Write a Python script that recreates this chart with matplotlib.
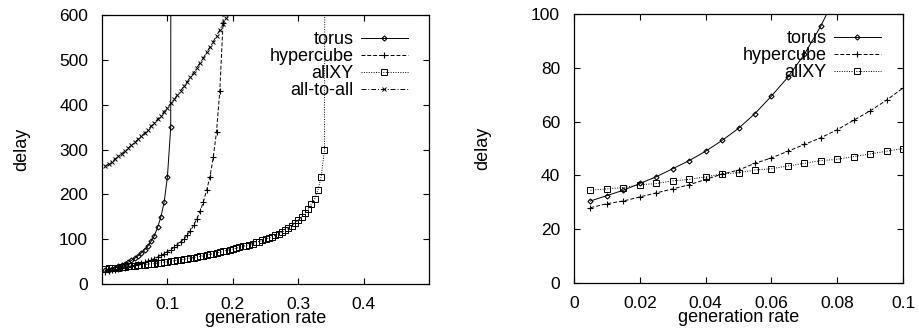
import numpy as np
import matplotlib
matplotlib.use("Agg")
import matplotlib.pyplot as plt

plt.rcParams["font.family"] = ["Liberation Sans", "DejaVu Sans"]
plt.rcParams["font.size"] = 12.5

# ---- data ----
# generation rate steps of 0.005
torus_x = [0.005, 0.01, 0.015, 0.02, 0.025, 0.03, 0.035, 0.04, 0.045, 0.05,
           0.055, 0.06, 0.065, 0.07, 0.075, 0.08, 0.085, 0.09, 0.095, 0.1,
           0.105, 0.11]
torus_y = [30.5, 32.5, 34.5, 37, 39.5, 42.5, 45.5, 49, 53, 57.5,
           63, 69.5, 76.5, 85, 95.5, 108, 127, 150, 183, 240,
           350, 10000]

hyper_x = [0.005, 0.01, 0.015, 0.02, 0.025, 0.03, 0.035, 0.04, 0.045, 0.05,
           0.055, 0.06, 0.065, 0.07, 0.075, 0.08, 0.085, 0.09, 0.095, 0.1,
           0.105, 0.11, 0.115, 0.12, 0.125, 0.13, 0.135, 0.14, 0.145, 0.15,
           0.155, 0.16, 0.165, 0.17, 0.175, 0.18, 0.185, 0.19]
hyper_y = [28, 29.5, 30.5, 32, 33.5, 35, 36.5, 38.5, 40.5, 42,
           44.5, 46.5, 49, 51.5, 54, 57, 60.5, 64, 68, 72.5,
           77, 82, 88, 94, 101, 109, 119, 131, 146, 163,
           184, 210, 240, 283, 340, 431, 583, 5000]

allxy_x = [0.005, 0.01, 0.015, 0.02, 0.025, 0.03, 0.035, 0.04, 0.045, 0.05,
           0.055, 0.06, 0.065, 0.07, 0.075, 0.08, 0.085, 0.09, 0.095, 0.1,
           0.105, 0.11, 0.115, 0.12, 0.125, 0.13, 0.135, 0.14, 0.145, 0.15,
           0.155, 0.16, 0.165, 0.17, 0.175, 0.18, 0.185, 0.19, 0.195, 0.2,
           0.205, 0.21, 0.215, 0.22, 0.225, 0.23, 0.235, 0.24, 0.245, 0.25,
           0.255, 0.26, 0.265, 0.27, 0.275, 0.28, 0.285, 0.29, 0.295, 0.3,
           0.305, 0.31, 0.315, 0.32, 0.325, 0.33, 0.335, 0.34, 0.345]
allxy_y = [34.5, 35, 35.5, 36.5, 37, 38, 38.5, 39.5, 40.5, 41,
           42, 42.5, 43.5, 44.5, 45.5, 46, 47, 48, 49, 50,
           51, 52, 53, 54, 55.5, 57, 58, 59, 60.5, 62,
           63.5, 65, 66.5, 68, 69.5, 71, 73, 75, 76.5, 78,
           80, 82, 84, 86, 88, 90.5, 93, 95, 97.5, 100,
           103, 106, 109, 112, 116, 120, 125, 130, 136, 143,
           150, 158, 167, 178, 190, 210, 240, 300, 5000]

a2a_x = [0.005, 0.01, 0.015, 0.02, 0.025, 0.03, 0.035, 0.04, 0.045, 0.05,
         0.055, 0.06, 0.065, 0.07, 0.075, 0.08, 0.085, 0.09, 0.095, 0.1,
         0.105, 0.11, 0.115, 0.12, 0.125, 0.13, 0.135, 0.14, 0.145, 0.15,
         0.155, 0.16, 0.165, 0.17, 0.175, 0.18, 0.185, 0.19, 0.195, 0.2]
a2a_y = [263, 268, 273, 279, 285, 291, 297, 303, 310, 316,
         323, 330, 337, 344, 352, 360, 368, 376, 385, 394,
         403, 412, 421, 431, 441, 451, 461, 472, 483, 494,
         505, 517, 529, 541, 554, 567, 580, 594, 608, 622]

# right panel uses the low-load part of the same runs
RIGHT_MAX = 0.1

styles = {
    "torus": dict(ls="-", marker="D", ms=2.6, mfc="none", mew=0.8),
    "hypercube": dict(ls=(0, (4, 2)), marker="+", ms=5, mew=0.8),
    "allXY": dict(ls=(0, (1, 1.5)), marker="s", ms=3.8, mfc="none", mew=0.7),
    "all-to-all": dict(ls=(0, (5, 2, 1, 2)), marker="x", ms=3.5, mew=0.7),
}
series = {
    "torus": (torus_x, torus_y),
    "hypercube": (hyper_x, hyper_y),
    "allXY": (allxy_x, allxy_y),
    "all-to-all": (a2a_x, a2a_y),
}

fig = plt.figure(figsize=(9.19, 3.3), dpi=100)
ax1 = fig.add_axes([0.111, 0.139, 0.356, 0.815])
ax2 = fig.add_axes([0.6246, 0.1424, 0.358, 0.815])


def style_axes(ax, ylabelpad):
    ax.tick_params(direction="in", top=True, right=True, length=4, width=0.8,
                   labelsize=12.5)
    ax.tick_params(axis="x", pad=9)
    ax.tick_params(axis="y", pad=10)
    for s in ax.spines.values():
        s.set_linewidth(0.9)
    ax.set_xlabel("generation rate", fontsize=13, labelpad=-1)
    ax.set_ylabel("delay", fontsize=13, labelpad=ylabelpad)


legend_kw = dict(loc="upper right", markerfirst=False, frameon=False,
                 handlelength=2.6, handletextpad=0.4, labelspacing=0.0,
                 fontsize=13, borderaxespad=0)

# left panel: full range
for name, (x, y) in series.items():
    ax1.plot(x, y, color="black", lw=0.7, label=name, **styles[name])
ax1.set_xlim(0, 0.5)
ax1.set_ylim(0, 600)
ax1.set_xticks([0.1, 0.2, 0.3, 0.4])
ax1.set_xticklabels(["0.1", "0.2", "0.3", "0.4"])
ax1.set_yticks(np.arange(0, 601, 100))
style_axes(ax1, 21)
ax1.legend(bbox_to_anchor=(0.957, 0.967), **legend_kw)

# right panel: zoom on low load
for name in ["torus", "hypercube", "allXY"]:
    x, y = series[name]
    x = np.array(x)
    y = np.array(y)
    keep = x <= RIGHT_MAX + 0.006
    ax2.plot(x[keep], y[keep], color="black", lw=0.7, label=name, **styles[name])
ax2.set_xlim(0, 0.1)
ax2.set_ylim(0, 100)
ax2.set_xticks([0, 0.02, 0.04, 0.06, 0.08, 0.1])
ax2.set_xticklabels(["0", "0.02", "0.04", "0.06", "0.08", "0.1"])
ax2.set_yticks(np.arange(0, 101, 20))
style_axes(ax2, 29)
ax2.legend(bbox_to_anchor=(0.954, 0.967), **legend_kw)

fig.savefig("out.png", dpi=100)
